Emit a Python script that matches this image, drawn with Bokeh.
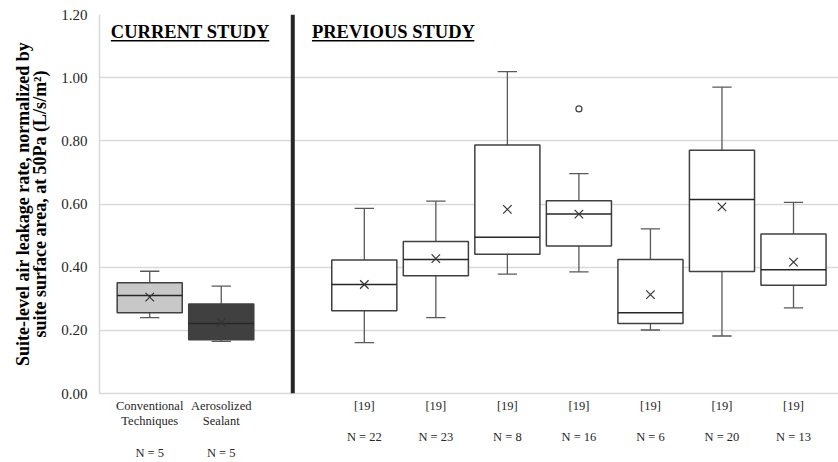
from bokeh.plotting import figure
from bokeh.models import FixedTicker, Span, Label, ColumnDataSource
from bokeh.embed import file_html
from bokeh.resources import INLINE

# ---- data ----
study = ["current", "current", "previous", "previous", "previous", "previous", "previous", "previous", "previous"]
labels = ["Conventional\nTechniques", "Aerosolized\nSealant", "[19]", "[19]", "[19]", "[19]", "[19]", "[19]", "[19]"]
n_count = [5, 5, 22, 23, 8, 16, 6, 20, 13]
whisker_low = [0.240, 0.165, 0.161, 0.240, 0.378, 0.385, 0.201, 0.182, 0.271]
q1 = [0.256, 0.170, 0.262, 0.373, 0.441, 0.467, 0.222, 0.386, 0.343]
median = [0.310, 0.222, 0.345, 0.424, 0.495, 0.568, 0.256, 0.614, 0.392]
q3 = [0.351, 0.283, 0.423, 0.481, 0.787, 0.610, 0.424, 0.770, 0.505]
whisker_high = [0.387, 0.340, 0.586, 0.609, 1.019, 0.696, 0.521, 0.970, 0.605]
mean = [0.305, 0.225, 0.345, 0.427, 0.583, 0.568, 0.313, 0.591, 0.416]
outlier_box = [5]
outlier_value = [0.901]
y_ticks = [0.0, 0.2, 0.4, 0.6, 0.8, 1.0, 1.2]

# ---- layout helpers ----
# previous-study boxes skip one slot that holds the divider
xpos = [i if study[i] == "current" else i + 1 for i in range(len(study))]
divider_x = 2
box_w = 0.91
cap_w = 0.27
fill_colors = ["#c8c8c8", "#404040"] + ["#ffffff"] * 7

SERIF = "Liberation Serif"

p = figure(width=838, height=462, output_backend="svg", toolbar_location=None,
           x_range=(-0.702, 9.629), y_range=(0, 1.2),
           min_border_left=99, min_border_right=0, min_border_top=14, min_border_bottom=0)
p.outline_line_color = None
p.background_fill_color = "white"
p.border_fill_color = "white"

src = ColumnDataSource(dict(
    x=xpos, wl=whisker_low, wh=whisker_high, q1=q1, q3=q3, med=median, mean=mean,
    fill=fill_colors,
    xl=[x - box_w / 2 for x in xpos], xr=[x + box_w / 2 for x in xpos],
    cl=[x - cap_w / 2 for x in xpos], cr=[x + cap_w / 2 for x in xpos],
))
# whiskers
p.segment(x0="x", y0="q3", x1="x", y1="wh", source=src, line_color="#595959", line_width=1.3)
p.segment(x0="x", y0="wl", x1="x", y1="q1", source=src, line_color="#595959", line_width=1.3)
p.segment(x0="cl", y0="wh", x1="cr", y1="wh", source=src, line_color="#595959", line_width=1.3)
p.segment(x0="cl", y0="wl", x1="cr", y1="wl", source=src, line_color="#595959", line_width=1.3)

# boxes
p.vbar(x="x", width=box_w, top="q3", bottom="q1", source=src,
       fill_color="fill", line_color="#404040", line_width=1.5)
p.segment(x0="xl", y0="med", x1="xr", y1="med", source=src, line_color="#262626", line_width=1.5)
p.scatter(x="x", y="mean", source=src, marker="x", size=12, line_color="#333333", line_width=1.2)

# outliers
p.scatter(x=[xpos[i] for i in outlier_box], y=outlier_value, marker="circle", size=6,
          fill_color="white", line_color="#404040", line_width=1.2)

# divider
p.add_layout(Span(location=divider_x, dimension="height", line_color="#262626", line_width=4))

# headings (underlined)
for txt, x0, x1 in [("CURRENT STUDY", -0.543, 1.671), ("PREVIOUS STUDY", 2.268, 4.538)]:
    p.add_layout(Label(x=x0, y=1.1457, text=txt, text_font=SERIF, text_font_style="bold",
                       text_font_size="18.5px", text_color="#000000", text_baseline="alphabetic",
                       text_align="left"))
    p.segment(x0=[x0], y0=[1.1167], x1=[x1], y1=[1.1167], line_color="#000000", line_width=1.5)

# y axis
p.yaxis.ticker = FixedTicker(ticks=y_ticks)
p.yaxis.major_label_overrides = {t: f"{t:.2f}" for t in y_ticks}
p.yaxis.major_label_text_font = SERIF
p.yaxis.major_label_text_font_size = "15px"
p.yaxis.major_label_text_color = "#262626"
p.yaxis.major_tick_out = 0
p.yaxis.major_tick_in = 0
p.yaxis.minor_tick_out = 0
p.yaxis.minor_tick_in = 0
p.yaxis.major_label_standoff = 12
p.yaxis.axis_line_color = "#d9d9d9"
p.yaxis.axis_line_width = 1.5
p.yaxis.axis_label = "Suite-level air leakage rate, normalized by\nsuite surface area, at 50Pa (L/s/m²)"
p.yaxis.axis_label_text_font = SERIF
p.yaxis.axis_label_text_font_style = "bold"
p.yaxis.axis_label_text_font_size = "18px"
p.yaxis.axis_label_text_color = "#000000"
p.yaxis.axis_label_text_line_height = 0.86
p.yaxis.axis_label_standoff = 8

# x axis
p.xaxis.ticker = FixedTicker(ticks=xpos)
p.xaxis.major_label_overrides = {x: f"{lab}\n\nN = {n}" for x, lab, n in zip(xpos, labels, n_count)}
p.xaxis.major_label_text_font = SERIF
p.xaxis.major_label_text_font_size = "12.5px"
p.xaxis.major_label_text_color = "#262626"
p.xaxis.major_label_text_line_height = 1.12
p.xaxis.major_tick_out = 0
p.xaxis.major_tick_in = 0
p.xaxis.minor_tick_out = 0
p.xaxis.minor_tick_in = 0
p.xaxis.major_label_standoff = 5
p.xaxis.axis_line_color = "#d9d9d9"
p.xaxis.axis_line_width = 1.5

p.xgrid.grid_line_color = None
p.ygrid.grid_line_color = "#d9d9d9"
p.ygrid.grid_line_width = 1.5

open("out.html", "w").write(file_html(p, INLINE))
